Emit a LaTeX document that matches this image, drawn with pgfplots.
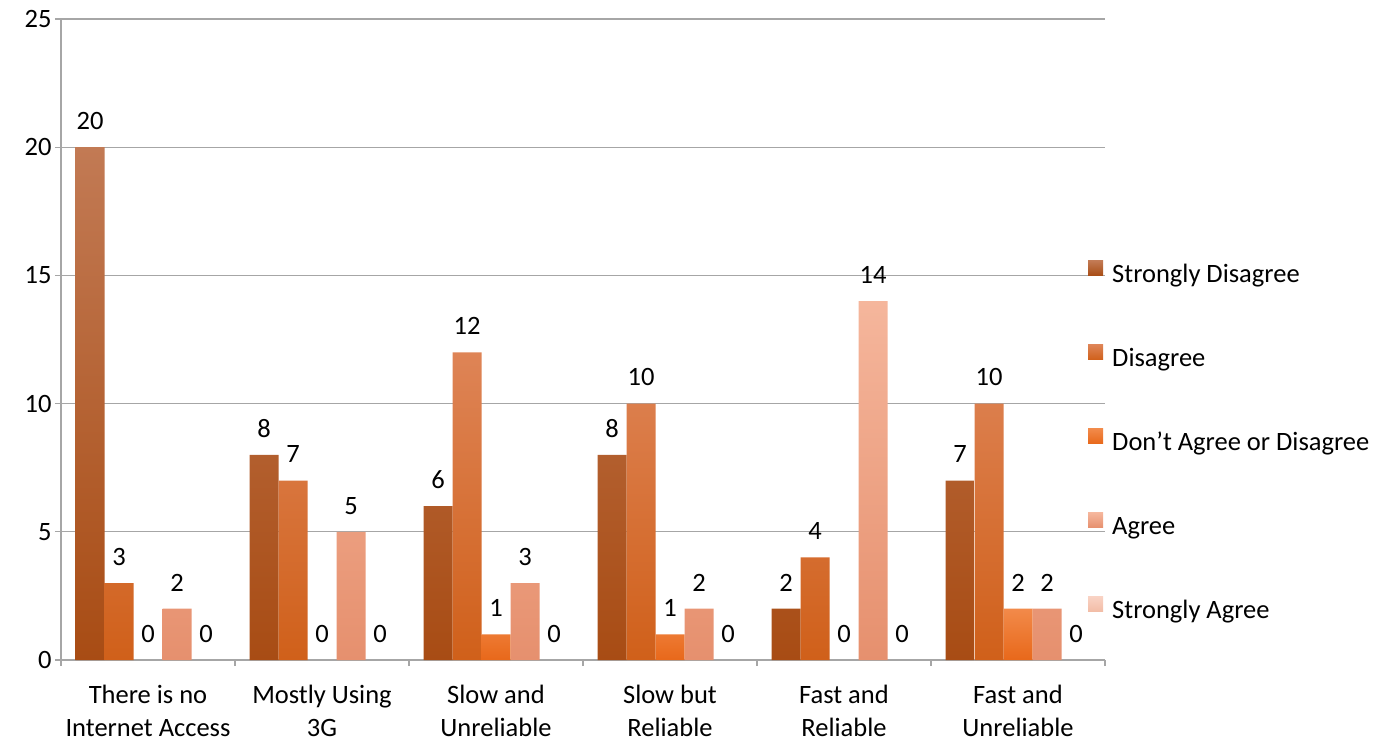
\documentclass[border=0pt]{standalone}
\usepackage{fontspec}
\setmainfont{Carlito}
\usepackage{pgfplots}
\pgfplotsset{compat=1.18}
\definecolor{gridgray}{HTML}{A6A6A6}
\definecolor{sdT}{HTML}{C27A54}
\definecolor{sdB}{HTML}{A84C14}
\definecolor{dT}{HTML}{DE8456}
\definecolor{dB}{HTML}{D0601A}
\definecolor{daT}{HTML}{F28A4A}
\definecolor{daB}{HTML}{E8681A}
\definecolor{aT}{HTML}{F5B69C}
\definecolor{aB}{HTML}{E6906E}
\definecolor{saT}{HTML}{F9D2C4}
\definecolor{saB}{HTML}{F2BCA6}
\begin{document}
\begin{tikzpicture}[font=\fontsize{26.5bp}{32bp}\selectfont]
\begin{axis}[
  scale only axis,
  width=1044bp, height=641bp,
  xmin=-0.5, xmax=5.5,
  ymin=0, ymax=25,
  ybar, bar width=29bp,
  axis x line=bottom, axis y line=left,
  axis line style={draw=gridgray, line width=1.2bp, -},
  xtick={0,...,5},
  xticklabels={There is no\\Internet Access, Mostly Using\\3G, Slow and\\Unreliable, Slow but\\Reliable, Fast and\\Reliable, Fast and\\Unreliable},
  xticklabel style={align=center, font=\fontsize{26.5bp}{33bp}\selectfont, yshift=-16bp},
  major x tick style={draw=none},
  minor xtick={-0.5,0.5,...,5.5},
  minor tick length=6bp,
  major tick length=6bp,
  tick align=outside,
  ytick={0,5,...,25},
  tick style={draw=gridgray, line width=1.2bp},
  minor tick style={draw=gridgray, line width=1.2bp},
  ymajorgrids,
  grid style={draw=gridgray, line width=1.2bp},
  /pgf/number format/assume math mode=true,
  yticklabel style={font=\fontsize{26.5bp}{32bp}\selectfont},
  legend image code/.code={\fill[#1] (0bp,0.5bp) rectangle (15bp,15.5bp); \path (0bp,0bp) (21bp,0bp);},
  legend style={draw=none, fill=none, inner sep=0pt, at={(1,0.337)}, anchor=west, xshift=-17bp,
    row sep=53.5bp, nodes={inner sep=3bp, text height=18bp, text depth=6bp}},
  legend cell align=left,
  every node near coord/.append style={anchor=south, yshift=14bp, font=\fontsize{26.5bp}{32bp}\selectfont, text=black},
]
% legend entries
\addlegendimage{top color=sdT, bottom color=sdB, draw=none}
\addlegendentry{Strongly Disagree}
\addlegendimage{top color=dT, bottom color=dB, draw=none}
\addlegendentry{Disagree}
\addlegendimage{top color=daT, bottom color=daB, draw=none}
\addlegendentry{Don’t Agree or Disagree}
\addlegendimage{top color=aT, bottom color=aB, draw=none}
\addlegendentry{Agree}
\addlegendimage{top color=saT, bottom color=saB, draw=none}
\addlegendentry{Strongly Agree}
% shaded bars (non-zero values only)
\addplot[forget plot, bar shift=-58bp, draw=none, top color=sdT, bottom color=sdB]
  coordinates {(0,20) (1,8) (2,6) (3,8) (4,2) (5,7)};
\addplot[forget plot, bar shift=-29bp, draw=none, top color=dT, bottom color=dB]
  coordinates {(0,3) (1,7) (2,12) (3,10) (4,4) (5,10)};
\addplot[forget plot, bar shift=0bp, draw=none, top color=daT, bottom color=daB]
  coordinates {(2,1) (3,1) (5,2)};
\addplot[forget plot, bar shift=29bp, draw=none, top color=aT, bottom color=aB]
  coordinates {(0,2) (1,5) (2,3) (3,2) (4,14) (5,2)};
% value labels
\addplot[forget plot, bar shift=-58bp, draw=none, fill=none, nodes near coords]
  coordinates {(0,20) (1,8) (2,6) (3,8) (4,2) (5,7)};
\addplot[forget plot, bar shift=-29bp, draw=none, fill=none, nodes near coords]
  coordinates {(0,3) (1,7) (2,12) (3,10) (4,4) (5,10)};
\addplot[forget plot, bar shift=0bp, draw=none, fill=none, nodes near coords]
  coordinates {(0,0) (1,0) (2,1) (3,1) (4,0) (5,2)};
\addplot[forget plot, bar shift=29bp, draw=none, fill=none, nodes near coords]
  coordinates {(0,2) (1,5) (2,3) (3,2) (4,14) (5,2)};
\addplot[forget plot, bar shift=58bp, draw=none, fill=none, nodes near coords]
  coordinates {(0,0) (1,0) (2,0) (3,0) (4,0) (5,0)};
\end{axis}
\pgfresetboundingbox
\useasboundingbox (-61bp,-84bp) rectangle (1325bp,660bp);
\end{tikzpicture}
\end{document}
